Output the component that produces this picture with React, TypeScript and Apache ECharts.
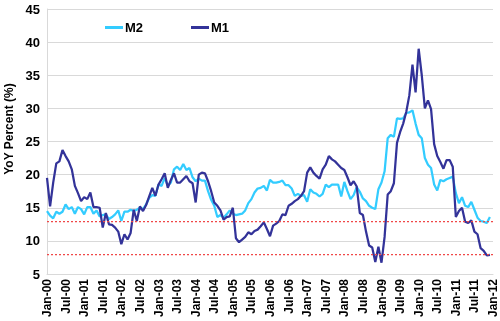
import React, { useEffect, useRef } from 'react';
import * as echarts from 'echarts';

const FONT = '"Liberation Sans", Arial, sans-serif';

const monthNames = ['Jan', 'Feb', 'Mar', 'Apr', 'May', 'Jun', 'Jul', 'Aug', 'Sep', 'Oct', 'Nov', 'Dec'];
const categories: string[] = [];
for (let y = 0; y <= 12; y++) {
  for (let m = 0; m < 12; m++) {
    if (y === 12 && m > 0) break;
    categories.push(`${monthNames[m]}-${String(y).padStart(2, '0')}`);
  }
}

// M2 YoY %, Jan-00 .. Dec-11
const m2Values = [
  14.5, 13.8, 13.4, 14.4, 14.1, 14.4, 15.5, 14.8, 15.1, 14.1, 15.1, 14.8,
  14.0, 15.1, 15.1, 14.1, 14.6, 13.7, 13.9, 14.0, 13.3, 13.6, 14.0, 14.6,
  13.0, 14.4, 14.4, 14.7, 14.5, 14.7, 15.0, 14.8, 15.5, 16.5, 16.9, 16.8,
  18.5, 18.3, 19.5, 18.3, 18.8, 20.8, 21.2, 20.7, 21.6, 20.7, 21.0, 19.6,
  19.0, 19.4, 19.1, 19.1, 17.5, 16.2, 15.3, 13.6, 13.9, 13.5, 14.0, 14.6,
  14.1, 13.9, 14.0, 14.1, 14.6, 15.7, 16.3, 17.3, 17.9, 18.0, 18.3, 17.6,
  19.2, 18.8, 18.8, 18.9, 19.1, 18.4, 18.4, 17.9, 16.8, 17.1, 16.8, 16.9,
  15.9, 17.8, 17.3, 17.1, 16.7, 17.1, 18.5, 18.1, 18.5, 18.5, 18.5, 16.7,
  18.9, 17.5, 16.3, 16.9, 18.1, 17.4, 16.4, 16.0, 15.3, 15.0, 14.8, 17.8,
  18.8, 20.5, 25.5, 26.0, 25.7, 28.5, 28.4, 28.5, 29.3, 29.4, 29.7, 27.7,
  26.0, 25.5, 22.5, 21.5, 21.0, 18.5, 17.6, 19.2, 19.0, 19.3, 19.5, 19.7,
  17.2, 15.7, 16.6, 15.3, 15.1, 15.9, 14.7, 13.5, 13.0, 12.9, 12.7, 13.6,
];

// M1 YoY %, Jan-00 .. Dec-11
const m1Values = [
  19.5, 15.2, 18.8, 21.7, 22.0, 23.7, 22.8, 22.0, 20.8, 18.3, 17.2, 16.0,
  16.6, 16.3, 17.3, 15.1, 15.1, 15.0, 12.0, 14.2, 12.5, 12.4, 12.0, 11.4,
  9.5, 11.0, 10.2, 11.2, 14.7, 13.0, 15.2, 14.5, 15.4, 16.7, 18.0, 16.8,
  18.5, 19.3, 20.2, 18.0, 19.2, 20.2, 18.8, 18.8, 19.3, 19.8, 19.0, 18.7,
  15.8, 20.0, 20.3, 20.2, 19.0, 17.5, 15.8, 15.3, 14.6, 13.2, 13.6, 13.7,
  15.0, 10.4, 9.8, 10.2, 10.6, 11.3, 11.0, 11.5, 11.7, 12.2, 12.8, 11.8,
  10.7, 12.3, 12.6, 13.0, 14.0, 13.9, 15.3, 15.6, 16.0, 16.3, 16.8, 17.5,
  20.3, 21.1, 20.3, 19.8, 19.4, 20.8, 21.5, 22.8, 22.3, 22.0, 21.5, 21.0,
  20.7, 19.6, 18.4, 19.0, 18.2, 14.2, 13.9, 11.4, 9.3, 9.0, 6.8, 9.1,
  6.7, 10.6, 17.0, 17.5, 18.7, 24.8, 26.4, 27.7, 29.5, 32.0, 36.6, 32.4,
  39.0, 35.0, 30.0, 31.2, 29.9, 24.6, 22.8, 21.9, 20.9, 22.2, 22.2, 21.2,
  13.6, 14.5, 15.0, 12.9, 12.7, 13.1, 11.4, 11.0, 8.9, 8.5, 7.8, 7.9,
];

const yMin = 5;
const yMax = 45;
const yStep = 5;
const referenceLevels = [13, 8];

const M2_COLOR = '#33ccff';
const M1_COLOR = '#333399';

export default function App() {
  const ref = useRef<HTMLDivElement>(null);

  useEffect(() => {
    if (!ref.current) return;
    const chart = echarts.init(ref.current, undefined, { renderer: 'svg' });
    const legendText = {
      fontSize: 13, fontWeight: 'bold', color: '#000', fontFamily: FONT,
      padding: [0, 0, 0, -3],
    };
    chart.setOption({
      animation: false,
      textStyle: { fontFamily: FONT },
      grid: { left: 47, right: 7, top: 9, bottom: 47, containLabel: false },
      legend: [
        {
          data: ['M2'], left: 105, top: 21, padding: 0, icon: 'rect', itemWidth: 18, itemHeight: 3,
          textStyle: legendText,
        },
        {
          data: ['M1'], left: 191, top: 21, padding: 0, icon: 'rect', itemWidth: 18, itemHeight: 3,
          textStyle: legendText,
        },
      ],
      xAxis: {
        type: 'category',
        data: categories,
        boundaryGap: false,
        axisLine: { show: true, lineStyle: { color: '#d9d9d9', width: 1 } },
        axisTick: { show: false },
        axisLabel: {
          interval: 5, rotate: 90, fontSize: 12, fontWeight: 'bold', color: '#000',
          margin: 5, fontFamily: FONT,
        },
        splitLine: { show: false },
      },
      yAxis: {
        type: 'value',
        min: yMin,
        max: yMax,
        interval: yStep,
        axisLine: { show: true, lineStyle: { color: '#d9d9d9', width: 1 } },
        axisTick: { show: false },
        axisLabel: { fontSize: 13, fontWeight: 'bold', color: '#000', margin: 7, fontFamily: FONT },
        splitLine: { show: true, lineStyle: { color: '#d9d9d9', width: 1 } },
      },
      series: [
        {
          name: 'M2',
          type: 'line',
          data: m2Values,
          symbol: 'none',
          showSymbol: false,
          lineStyle: { color: M2_COLOR, width: 2.25 },
          itemStyle: { color: M2_COLOR },
          markLine: {
            silent: true,
            symbol: 'none',
            label: { show: false },
            lineStyle: { color: '#f04848', type: [2, 2], width: 1.25 },
            data: referenceLevels.map((v) => ({ yAxis: v })),
          },
        },
        {
          name: 'M1',
          type: 'line',
          data: m1Values,
          symbol: 'none',
          showSymbol: false,
          lineStyle: { color: M1_COLOR, width: 2.25 },
          itemStyle: { color: M1_COLOR },
        },
      ],
      graphic: [
        {
          type: 'text',
          x: 9,
          y: 129,
          rotation: Math.PI / 2,
          style: {
            text: 'YoY Percent (%)',
            fontSize: 12,
            fontWeight: 'bold',
            fontFamily: FONT,
            fill: '#000',
            align: 'center',
            verticalAlign: 'middle',
            textAlign: 'center',
            textVerticalAlign: 'middle',
          },
        },
      ],
    });
    return () => chart.dispose();
  }, []);

  return (
    <div
      ref={ref}
      style={{ position: 'fixed', left: 0, top: 0, width: 500, height: 321 }}
    />
  );
}
